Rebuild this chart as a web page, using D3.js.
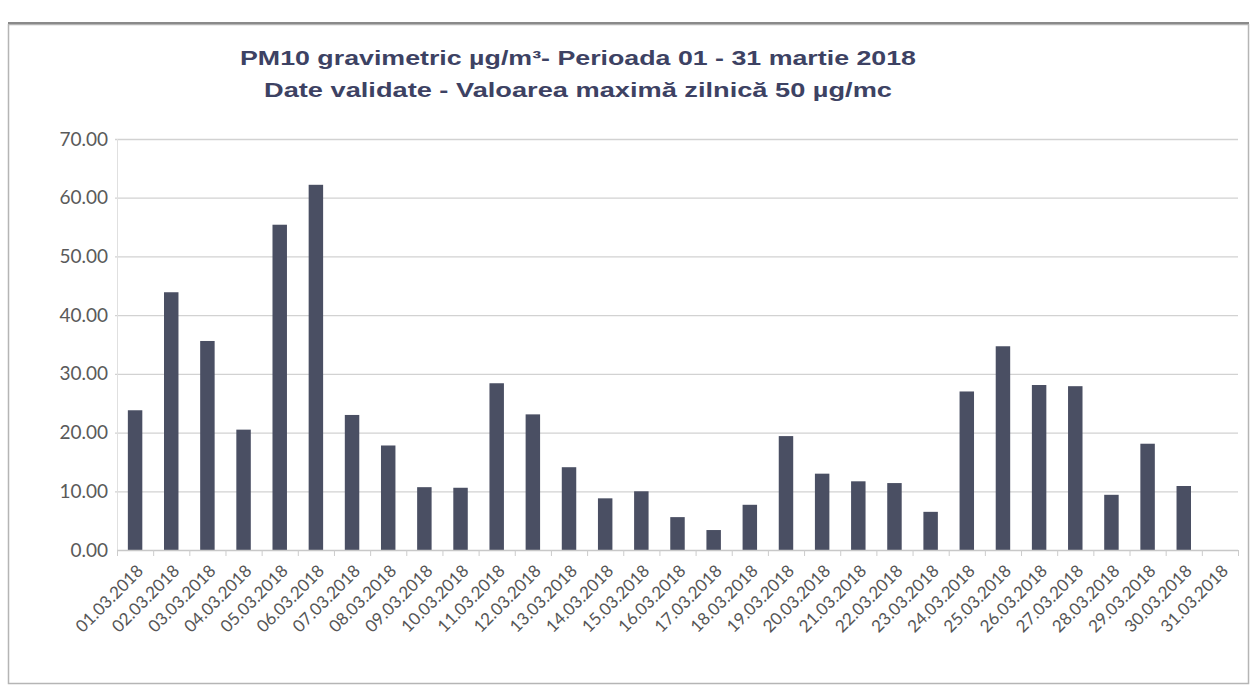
<!DOCTYPE html>
<html>
<head>
<meta charset="utf-8">
<script src="https://cdn.jsdelivr.net/npm/d3@7"></script>
<style>
  html, body { margin: 0; padding: 0; background: #ffffff; }
  svg { display: block; }
</style>
</head>
<body>
<svg id="chart" width="1255" height="690"></svg>
<script>
const titleLines = [
  "PM10 gravimetric µg/m³- Perioada 01 - 31 martie 2018",
  "Date validate -  Valoarea maximă zilnică 50 µg/mc"
];
const categories = [
  "01.03.2018","02.03.2018","03.03.2018","04.03.2018","05.03.2018","06.03.2018",
  "07.03.2018","08.03.2018","09.03.2018","10.03.2018","11.03.2018","12.03.2018",
  "13.03.2018","14.03.2018","15.03.2018","16.03.2018","17.03.2018","18.03.2018",
  "19.03.2018","20.03.2018","21.03.2018","22.03.2018","23.03.2018","24.03.2018",
  "25.03.2018","26.03.2018","27.03.2018","28.03.2018","29.03.2018","30.03.2018",
  "31.03.2018"
];
const values = [
  23.8, 43.9, 35.6, 20.5, 55.4, 62.2, 23.0, 17.8, 10.7, 10.6,
  28.4, 23.1, 14.1, 8.8, 10.0, 5.6, 3.4, 7.7, 19.4, 13.0,
  11.7, 11.4, 6.5, 27.0, 34.7, 28.1, 27.9, 9.4, 18.1, 10.9,
  null
];
const yTicks = [0, 10, 20, 30, 40, 50, 60, 70];

const svg = d3.select("#chart");
const W = 1255, H = 690;

// outer frame
svg.append("rect")
  .attr("x", 8.5).attr("y", 24.5)
  .attr("width", 1240).attr("height", 659)
  .attr("fill", "#ffffff")
  .attr("stroke", "#b5b5b5").attr("stroke-width", 1.5);
svg.append("line")
  .attr("x1", 8).attr("x2", 1249).attr("y1", 23).attr("y2", 23)
  .attr("stroke", "#8a8a8a").attr("stroke-width", 2);

const plot = { left: 117, right: 1238, top: 139, bottom: 550 };

const x = d3.scaleBand()
  .domain(categories)
  .range([plot.left, plot.right])
  .paddingInner(0.6)
  .paddingOuter(0.3);

const y = d3.scaleLinear()
  .domain([0, 70])
  .range([plot.bottom, plot.top]);

// gridlines
svg.append("g")
  .selectAll("line")
  .data(yTicks.filter(d => d > 0))
  .join("line")
  .attr("x1", plot.left - 2).attr("x2", plot.right)
  .attr("y1", d => y(d) + 0.5).attr("y2", d => y(d) + 0.5)
  .attr("stroke", "#d2d2d2").attr("stroke-width", 1.3);

// left axis line (faint)
svg.append("line")
  .attr("x1", plot.left + 0.5).attr("x2", plot.left + 0.5)
  .attr("y1", plot.top).attr("y2", plot.bottom)
  .attr("stroke", "#e0e0e0").attr("stroke-width", 1);

// y axis labels
const yAxis = d3.axisLeft(y)
  .tickValues(yTicks)
  .tickSize(0)
  .tickPadding(7)
  .tickFormat(d3.format(".2f"));
const gy = svg.append("g")
  .attr("transform", `translate(${plot.left - 2},0)`)
  .call(yAxis);
gy.select(".domain").remove();
gy.selectAll("text")
  .attr("font-family", "Lato, 'Open Sans', sans-serif")
  .attr("font-size", 19)
  .attr("fill", "#5a5a5a");

// bars
svg.append("g")
  .selectAll("rect")
  .data(categories.map((c, i) => ({ c, v: values[i] })).filter(d => d.v != null))
  .join("rect")
  .attr("x", d => x(d.c))
  .attr("width", x.bandwidth())
  .attr("y", d => y(d.v))
  .attr("height", d => y(0) - y(d.v))
  .attr("fill", "#4a4f63");

// x axis
const step = x.step();
const xAxis = d3.axisBottom(x).tickSize(0).tickFormat(d => d);
const gx = svg.append("g")
  .attr("transform", `translate(0,${plot.bottom})`)
  .call(xAxis);
gx.select(".domain")
  .attr("d", `M${plot.left},0.5H${plot.right}`)
  .attr("stroke", "#c8c8c8").attr("stroke-width", 1.3);
// boundary tick marks
gx.append("g")
  .selectAll("line")
  .data(d3.range(categories.length + 1))
  .join("line")
  .attr("x1", i => plot.left + i * step + 0.5)
  .attr("x2", i => plot.left + i * step + 0.5)
  .attr("y1", 0).attr("y2", 6)
  .attr("stroke", "#cccccc").attr("stroke-width", 1);
gx.selectAll(".tick text")
  .attr("font-family", "Lato, 'Open Sans', sans-serif")
  .attr("font-size", 17)
  .attr("fill", "#555555")
  .attr("text-anchor", "end")
  .attr("dy", 0)
  .attr("y", 0)
  .attr("transform", `translate(${x.bandwidth() / 2 + 2},${22}) rotate(-45)`);

// title
const title = svg.append("g")
  .attr("font-family", "'Liberation Sans', Arial, sans-serif")
  .attr("font-weight", "bold")
  .attr("font-size", 21)
  .attr("fill", "#3d4263")
  .attr("text-anchor", "middle");
title.selectAll("text")
  .data(titleLines)
  .join("text")
  .attr("x", 578)
  .attr("y", (d, i) => 65 + i * 32)
  .attr("textLength", (d, i) => i === 0 ? 676 : 628)
  .attr("lengthAdjust", "spacingAndGlyphs")
  .text(d => d);
</script>
</body>
</html>
